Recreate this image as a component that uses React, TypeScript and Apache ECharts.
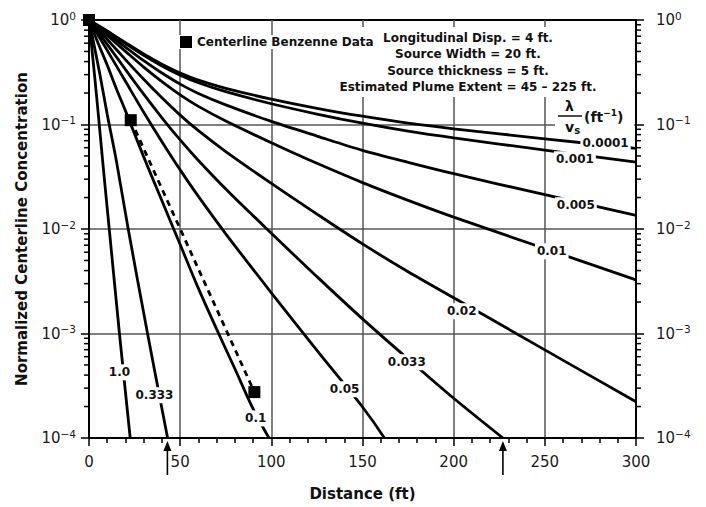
import React, { useEffect, useRef } from 'react';
import * as echarts from 'echarts';

const FONT = '"DejaVu Sans", Verdana, sans-serif';

// Normalized centerline concentration vs. distance (ft), one list per λ/vs (ft⁻¹)
const curveL00001 = [[0, 1], [5, 0.886], [10, 0.785], [20, 0.607], [30, 0.473], [40, 0.378], [50, 0.311], [60, 0.266], [75, 0.222], [100, 0.175], [125, 0.143], [150, 0.12], [175, 0.103], [200, 0.091], [250, 0.073], [300, 0.059]];
const curveL0001 = [[0, 1], [5, 0.882], [10, 0.777], [20, 0.595], [30, 0.459], [40, 0.363], [50, 0.296], [60, 0.251], [75, 0.206], [100, 0.158], [125, 0.126], [150, 0.103], [175, 0.0864], [200, 0.0745], [250, 0.0569], [300, 0.0437]];
const curveL0005 = [[0, 1], [5, 0.865], [10, 0.747], [20, 0.551], [30, 0.408], [40, 0.311], [50, 0.2435], [60, 0.198], [75, 0.154], [100, 0.107], [125, 0.0775], [150, 0.0566], [175, 0.0434], [200, 0.0338], [250, 0.0213], [300, 0.0135]];
const curveL001 = [[0, 1], [5, 0.844], [10, 0.713], [20, 0.501], [30, 0.354], [40, 0.257], [50, 0.192], [60, 0.149], [75, 0.108], [100, 0.0669], [125, 0.0425], [150, 0.0278], [175, 0.0188], [200, 0.013], [250, 0.0065], [300, 0.00326]];
const curveL002 = [[0, 1], [5, 0.807], [10, 0.652], [20, 0.418], [30, 0.271], [40, 0.18], [50, 0.123], [60, 0.0872], [75, 0.0551], [100, 0.0273], [125, 0.0139], [150, 0.0072], [175, 0.0039], [200, 0.0022], [250, 0.000697], [300, 0.000222]];
const curveL0033 = [[0, 1], [5, 0.765], [10, 0.585], [20, 0.336], [30, 0.195], [40, 0.116], [50, 0.0712], [60, 0.0453], [75, 0.0242], [100, 0.0091], [125, 0.0035], [150, 0.00138], [175, 0.00057], [200, 0.00024], [227, 0.0001]];
const curveL005 = [[0, 1], [5, 0.716], [10, 0.512], [20, 0.259], [30, 0.131], [40, 0.0685], [50, 0.0368], [60, 0.0205], [75, 0.009], [100, 0.00245], [125, 0.000688], [150, 0.000198], [162, 0.0001]];
const curveL01 = [[0, 1], [5, 0.6], [10, 0.37], [15, 0.22], [20, 0.135], [30, 0.049], [40, 0.0186], [50, 0.0071], [60, 0.0027], [70, 0.0011], [80, 0.00046], [90, 0.00019], [98.7, 0.0001]];
const curveL0333 = [[0, 1], [3, 0.55], [6, 0.3], [10, 0.125], [15, 0.045], [21.5, 0.01], [32.1, 0.001], [43.1, 0.0001]];
const curveL1 = [[0, 1], [2, 0.45], [4, 0.2], [6, 0.085], [8, 0.036], [11.1, 0.01], [16.7, 0.001], [22.6, 0.0001]];

const curveNames = ['0.0001', '0.001', '0.005', '0.01', '0.02', '0.033', '0.05', '0.1', '0.333', '1.0'];
const curveData = [curveL00001, curveL0001, curveL0005, curveL001, curveL002, curveL0033, curveL005, curveL01, curveL0333, curveL1];

// where each λ/vs value is written along its curve (distance, concentration)
const curveLabelAnchors = [[283.3, 0.0664], [266.5, 0.0466], [267, 0.0169], [253.8, 0.00613], [204.4, 0.00163], [174.3, 0.00053], [140.2, 0.000292], [91.4, 0.000154], [35.9, 0.000256], [16.7, 0.000425]];

// measured benzene along the centerline, and the dashed line through it
const benzeneData = [[0, 1], [22.9, 0.11], [90.7, 0.000275]];
const benzeneTrend = [[22.9, 0.11], [90.7, 0.000275]];

// distances flagged with arrows below the axis
const plumeExtentMarks = [43, 227];

const decades = [1e-4, 1e-3, 1e-2, 1e-1];
const minorMultipliers = [2, 3, 4, 5, 6, 7, 8, 9];
const yMinorTicks: number[][] = [];
decades.forEach((d) => minorMultipliers.forEach((m) => yMinorTicks.push([0, d * m])));

const notes = [
  'Longitudinal Disp. = 4 ft.',
  'Source Width = 20 ft.',
  'Source thickness = 5 ft.',
  'Estimated Plume Extent = 45 \u2013 225 ft.',
];

const powerLabel = (v: number) => {
  const e = Math.round(Math.log10(v));
  return `{b|10}{s|${e === 0 ? '0' : '\u2212' + -e}}`;
};
const powerRich = {
  b: { fontFamily: FONT, fontSize: 15, color: '#1a1a1a', lineHeight: 20 },
  s: { fontFamily: FONT, fontSize: 10.5, color: '#1a1a1a', lineHeight: 10, verticalAlign: 'top' },
};

const buildOption = () => {
  const curveSeries = curveData.map((pts, i) => ({
    type: 'line',
    name: curveNames[i],
    data: pts,
    showSymbol: false,
    symbol: 'none',
    smooth: 0.3,
    lineStyle: { color: '#000', width: 2.8 },
    z: 2,
  }));

  return {
    animation: false,
    backgroundColor: '#fff',
    grid: { left: 89, top: 20, width: 547, height: 418, show: true, borderColor: '#000', borderWidth: 2 },
    legend: {
      data: [{ name: 'Centerline Benzenne Data', icon: 'rect' }],
      left: 177,
      top: 35,
      itemWidth: 12,
      itemHeight: 12,
      padding: [1, 3],
      backgroundColor: '#fff',
      textStyle: { fontFamily: FONT, fontWeight: 'bold', fontSize: 12, color: '#111' },
      z: 6,
    },
    xAxis: {
      type: 'value',
      min: 0,
      max: 300,
      interval: 50,
      name: 'Distance (ft)',
      nameLocation: 'middle',
      nameGap: 48,
      nameTextStyle: { fontFamily: FONT, fontWeight: 'bold', fontSize: 15, color: '#111' },
      axisLine: { show: true, lineStyle: { color: '#000', width: 2 } },
      axisTick: { show: true, length: 8, lineStyle: { color: '#000', width: 1.5 } },
      minorTick: { show: true, splitNumber: 5, length: 5, lineStyle: { color: '#000', width: 1.5 } },
      splitLine: { show: true, showMinLine: false, showMaxLine: false, lineStyle: { color: '#555', width: 1.5 } },
      axisLabel: { fontFamily: FONT, fontSize: 15, color: '#1a1a1a', margin: 16 },
    },
    yAxis: [
      {
        type: 'log',
        logBase: 10,
        min: 1e-4,
        max: 1,
        position: 'left',
        name: 'Normalized Centerline Concentration',
        nameLocation: 'middle',
        nameGap: 60,
        nameTextStyle: { fontFamily: FONT, fontWeight: 'bold', fontSize: 15, color: '#111' },
        axisLine: { show: true, lineStyle: { color: '#000', width: 2 } },
        axisTick: { show: true, length: 8, lineStyle: { color: '#000', width: 1.5 } },
        splitLine: { show: true, showMinLine: false, showMaxLine: false, lineStyle: { color: '#555', width: 1.5 } },
        axisLabel: { margin: 13, formatter: powerLabel, rich: powerRich },
      },
      {
        type: 'log',
        logBase: 10,
        min: 1e-4,
        max: 1,
        position: 'right',
        axisLine: { show: true, lineStyle: { color: '#000', width: 2 } },
        axisTick: { show: true, length: 8, lineStyle: { color: '#000', width: 1.5 } },
        splitLine: { show: false },
        axisLabel: { margin: 20, formatter: powerLabel, rich: powerRich },
      },
    ],
    graphic: [
      { type: 'rect', shape: { x: 338, y: 27, width: 262, height: 70 }, style: { fill: '#fff' }, z: 1 },
      ...notes.map((t, i) => ({
        type: 'text',
        x: 468,
        y: [38, 54, 70.5, 87][i],
        z: 3,
        style: { text: t, font: `bold 12px ${FONT}`, fill: '#111', align: 'center', verticalAlign: 'middle', textAlign: 'center', textVerticalAlign: 'middle' },
      })),
      { type: 'rect', shape: { x: 555, y: 99, width: 79, height: 38 }, style: { fill: '#fff' }, z: 1 },
      {
        type: 'text', x: 569.5, y: 106, z: 3,
        style: { text: '\u03bb', font: `bold 14px ${FONT}`, fill: '#111', align: 'center', verticalAlign: 'middle', textAlign: 'center', textVerticalAlign: 'middle' },
      },
      { type: 'line', shape: { x1: 558, y1: 116, x2: 582, y2: 116 }, style: { stroke: '#111', lineWidth: 1.5 }, z: 3 },
      {
        type: 'text', x: 565, y: 127, z: 3,
        style: {
          text: '{v|v}{s|s}', fill: '#111', align: 'left', verticalAlign: 'middle', textAlign: 'left', textVerticalAlign: 'middle',
          rich: {
            v: { font: `bold 14px ${FONT}`, fill: '#111', lineHeight: 16 },
            s: { font: `bold 10px ${FONT}`, fill: '#111', lineHeight: 10, verticalAlign: 'bottom' },
          },
        },
      },
      {
        type: 'text', x: 584, y: 117, z: 3,
        style: {
          text: '{a|(ft}{s|\u22121}{a|)}', fill: '#111', align: 'left', verticalAlign: 'middle', textAlign: 'left', textVerticalAlign: 'middle',
          rich: {
            a: { font: `bold 14px ${FONT}`, fill: '#111', lineHeight: 18 },
            s: { font: `bold 9px ${FONT}`, fill: '#111', lineHeight: 10, verticalAlign: 'top' },
          },
        },
      },
    ],
    series: [
      ...curveSeries,
      {
        type: 'line',
        name: 'trend',
        data: benzeneTrend,
        showSymbol: false,
        symbol: 'none',
        lineStyle: { color: '#000', width: 2.8, type: [6, 5] },
        z: 2,
      },
      {
        type: 'scatter',
        name: 'Centerline Benzenne Data',
        data: benzeneData,
        symbol: 'rect',
        symbolSize: 12,
        itemStyle: { color: '#000', opacity: 1 },
        clip: false,
        z: 5,
      },
      {
        type: 'scatter',
        name: 'curve labels',
        data: curveLabelAnchors.map((c, i) => ({ value: c, name: curveNames[i] })),
        symbolSize: 1,
        itemStyle: { color: 'rgba(0,0,0,0)', opacity: 1 },
        silent: true,
        z: 4,
        label: {
          show: true,
          formatter: '{b}',
          position: 'inside',
          backgroundColor: '#fff',
          padding: [2, 2],
          fontFamily: FONT,
          fontWeight: 'bold',
          fontSize: 12,
          color: '#111',
          opacity: 1,
        },
      },
      {
        type: 'custom',
        name: 'minor ticks',
        data: yMinorTicks,
        silent: true,
        clip: false,
        z: 3,
        renderItem: (params: any, api: any) => {
          const v = api.value(1);
          const l = api.coord([0, v]);
          const r = api.coord([300, v]);
          const st = { stroke: '#000', lineWidth: 1.5 };
          return {
            type: 'group',
            children: [
              { type: 'line', shape: { x1: l[0] - 5, y1: l[1], x2: l[0], y2: l[1] }, style: st },
              { type: 'line', shape: { x1: r[0], y1: r[1], x2: r[0] + 5, y2: r[1] }, style: st },
            ],
          };
        },
      },
      {
        type: 'custom',
        name: 'extent arrows',
        data: plumeExtentMarks.map((x) => [x, 1e-4]),
        silent: true,
        clip: false,
        z: 3,
        renderItem: (params: any, api: any) => {
          const p = api.coord([api.value(0), 1e-4]);
          return {
            type: 'group',
            children: [
              { type: 'line', shape: { x1: p[0], y1: p[1] + 10, x2: p[0], y2: p[1] + 37 }, style: { stroke: '#000', lineWidth: 1.6 } },
              { type: 'polygon', shape: { points: [[p[0], p[1] + 3], [p[0] - 4, p[1] + 13], [p[0] + 4, p[1] + 13]] }, style: { fill: '#000' } },
            ],
          };
        },
      },
    ],
  };
};

export default function App() {
  const ref = useRef<HTMLDivElement>(null);
  useEffect(() => {
    const chart = echarts.init(ref.current!, null, { renderer: 'svg' });
    chart.setOption(buildOption() as any);
    return () => chart.dispose();
  }, []);
  return (
    <div
      ref={ref}
      style={{ position: 'fixed', left: 0, top: 0, width: 706, height: 507, background: '#fff' }}
    />
  );
}
